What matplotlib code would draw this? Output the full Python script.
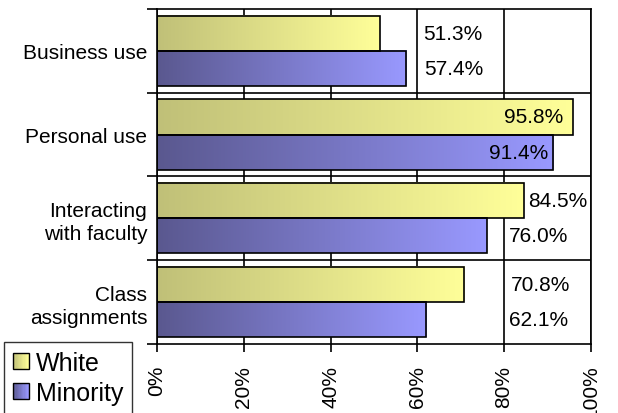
import numpy as np
import matplotlib
matplotlib.use("Agg")
import matplotlib.pyplot as plt
from matplotlib.patches import Rectangle
from matplotlib.legend_handler import HandlerBase
from matplotlib.colors import LinearSegmentedColormap

plt.rcParams['font.family'] = ['Liberation Sans', 'DejaVu Sans']

categories = ['Business use', 'Personal use', 'Interacting\nwith faculty', 'Class\nassignments']
white = [51.3, 95.8, 84.5, 70.8]
minority = [57.4, 91.4, 76.0, 62.1]

# x position (in %) and alignment of the value labels
white_label_x = [61.3, 93.7, 85.5, 81.6]
minority_label_x = [61.5, 90.1, 81.1, 81.1]
label_ha = ['left', 'right', 'left', 'left']

white_grad = ('#c0c078', '#ffff99')
minority_grad = ('#5a588f', '#9999ff')


def make_cmap(c0, c1):
    return LinearSegmentedColormap.from_list('grad', [c0, c1])


class GradientHandler(HandlerBase):
    """Legend swatch with a left-to-right colour gradient"""
    def __init__(self, c0, c1, n=12):
        super().__init__()
        self.cmap = make_cmap(c0, c1)
        self.n = n

    def create_artists(self, legend, orig_handle, xdescent, ydescent,
                       width, height, fontsize, trans):
        arts = []
        for i in range(self.n):
            arts.append(Rectangle((-xdescent + width * i / self.n, -ydescent),
                                  width / self.n, height,
                                  facecolor=self.cmap((i + 0.5) / self.n),
                                  edgecolor='none', transform=trans))
        arts.append(Rectangle((-xdescent, -ydescent), width, height,
                              facecolor='none', edgecolor='black', lw=1.0,
                              transform=trans))
        return arts


fig = plt.figure(figsize=(6.18, 4.14), dpi=100)
ax = fig.add_axes([0.254, 0.167, 0.702, 0.809])

y = np.arange(len(categories))
h = 0.42
bars_w = ax.barh(y - h / 2, white, height=h, facecolor='none',
                 edgecolor='black', lw=1.2, zorder=3)
bars_m = ax.barh(y + h / 2, minority, height=h, facecolor='none',
                 edgecolor='black', lw=1.2, zorder=3)


def fill_gradient(bars, c0, c1):
    cmap = make_cmap(c0, c1)
    grad = np.linspace(0, 1, 256).reshape(1, -1)
    for b in bars:
        x0, y0 = b.get_x(), b.get_y()
        ax.imshow(grad, cmap=cmap, aspect='auto', interpolation='bilinear',
                  extent=[x0, x0 + b.get_width(), y0 + b.get_height(), y0],
                  zorder=2)


fill_gradient(bars_w, *white_grad)
fill_gradient(bars_m, *minority_grad)

ax.set_xlim(0, 100)
ax.set_ylim(3.5, -0.5)

# vertical grid at 20% steps, horizontal lines between categories
ax.set_xticks(range(0, 101, 20))
ax.set_xticklabels([f'{v}%' for v in range(0, 101, 20)], rotation=90, fontsize=15)
ax.xaxis.grid(True, color='black', lw=1.2)
ax.set_axisbelow(True)
for yb in y[:-1] + 0.5:
    ax.axhline(yb, color='black', lw=1.2, zorder=1)
ax.tick_params(axis='x', length=6, width=1.2, pad=9)

ax.set_yticks(np.arange(-0.5, len(categories), 1))
ax.set_yticklabels([])
ax.set_yticks(y, minor=True)
ax.set_yticklabels(categories, minor=True, fontsize=15)
ax.tick_params(axis='y', which='major', length=7, width=1.2)
ax.tick_params(axis='y', which='minor', length=0, pad=7)
for t in ax.get_yticklabels(minor=True):
    t.set_linespacing(1.25)

for s in ax.spines.values():
    s.set_color('black')
    s.set_linewidth(1.2)

# value labels
for i in range(len(categories)):
    ax.text(white_label_x[i], y[i] - h / 2, f'{white[i]:.1f}%', fontsize=15,
            ha=label_ha[i], va='center', zorder=4)
    ax.text(minority_label_x[i], y[i] + h / 2, f'{minority[i]:.1f}%', fontsize=15,
            ha=label_ha[i], va='center', zorder=4)

leg = fig.legend([bars_w, bars_m], ['White', 'Minority'],
                 handler_map={bars_w: GradientHandler(*white_grad),
                              bars_m: GradientHandler(*minority_grad)},
                 loc='upper left', bbox_to_anchor=(4 / 618, 1 - 343 / 414),
                 bbox_transform=fig.transFigure, fontsize=18,
                 fancybox=False, borderaxespad=0, borderpad=0.35,
                 handlelength=0.64, handleheight=0.64, handletextpad=0.28,
                 labelspacing=0.25)
leg.get_frame().set_edgecolor('black')
leg.get_frame().set_linewidth(1.0)

fig.savefig('out.png', dpi=100)
